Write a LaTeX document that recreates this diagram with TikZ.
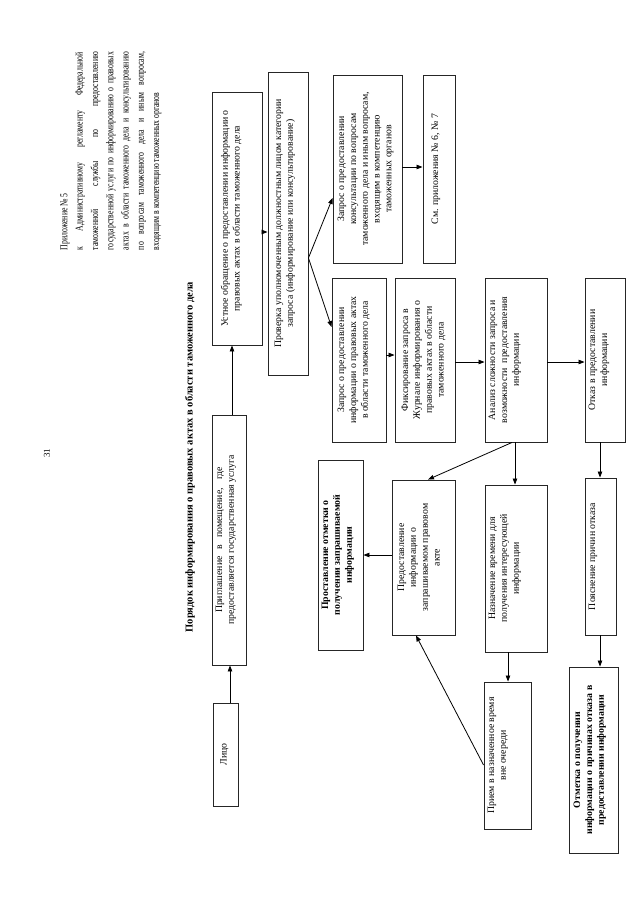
\documentclass[tikz,border=0pt]{standalone}
\usepackage{fontspec}
\usepackage{calc}
\setmainfont{Liberation Serif}
\newfontfamily\hdrfont[FakeStretch=0.74]{Liberation Serif}
\usetikzlibrary{arrows.meta}
\newcommand{\jl}[1]{\makebox[198pt][s]{#1}}
% #1 extra text style, #2 name, #3 cx, #4 cy, #5 vertical extent, #6 horizontal extent, #7 left padding, #8 text
\newcommand{\mybox}[8]{%
  \node[box, minimum width=#5pt, minimum height=#6pt] (#2) at (#3,#4) {};
  \node[txt, #1, inner ysep=#7pt] (#2T) at (#2.north) {#8};}
\begin{document}
\begin{tikzpicture}[x=1pt,y=-1pt,
  box/.style={draw=black!85, line width=0.9pt, rotate=90, inner sep=0pt},
  txt/.style={rotate=90, anchor=north, align=center, inner xsep=0pt,
    font=\fontsize{9.8}{11.8}\selectfont},
  bold/.style={font=\fontsize{9.8}{11.8}\selectfont\bfseries},
  plain/.style={},
  arr/.style={-{Triangle[length=6pt,width=4.5pt]}, line width=0.8pt}]
\fill[white] (0,0) rectangle (640,900);
\useasboundingbox (0,0) rectangle (640,900);

% page number and header
\node[rotate=90, font=\fontsize{9}{11}\selectfont] (pg) at (47,453) {31};
\node[rotate=90, align=left, inner sep=0pt,
  font=\hdrfont\fontsize{10.5}{15.3}\selectfont] (hdr) at (111,151)
  {\makebox[198pt][l]{Приложение № 5}\\
   \jl{к Административному регламенту Федеральной}\\
   \jl{таможенной службы по предоставлению}\\
   \jl{государственной услуги по информированию о правовых}\\
   \jl{актах в области таможенного дела и консультированию}\\
   \jl{по вопросам таможенного дела и иным вопросам,}\\
   \makebox[198pt][l]{входящим в компетенцию таможенных органов}};
\node[rotate=90, font=\fontsize{10.5}{13}\selectfont\bfseries] (title) at (190,457)
  {Порядок информирования о правовых актах в области таможенного дела};

% boxes
\mybox{plain}{ustnoe}{237}{218.5}{253}{50}{9}
  {Устное обращение о предоставлении информации о\\правовых актах в области таможенного дела}
\mybox{plain}{priglash}{229}{540}{250}{34}{4}
  {\makebox[\widthof{предоставляется государственная услуга}-24pt][s]{Приглашение в помещение, где}\\предоставляется государственная услуга}
\mybox{plain}{lico}{226}{754.5}{103}{25}{7}{Лицо}
\mybox{plain}{proverka}{288}{223.5}{303}{40}{7}
  {Проверка уполномоченным должностным лицом категории\\запроса (информирование или консультирование)}
\mybox{plain}{konsult}{367.5}{169}{188}{69}{5}
  {Запрос о предоставлении\\консультации по вопросам\\таможенного дела и иным вопросам,\\входящим в компетенцию\\таможенных органов}
\mybox{plain}{sm}{439}{169}{188}{32}{9}{См. приложения № 6, № 7}
\mybox{plain}{zapros}{359}{360}{164}{54}{6}
  {Запрос о предоставлении\\информации о правовых актах\\в области таможенного дела}
\mybox{plain}{fiks}{425}{360}{164}{60}{7}
  {Фиксирование запроса в\\Журнале информирования о\\правовых актах в области\\таможенного дела}
\mybox{plain}{analiz}{516}{360}{164}{62}{4}
  {Анализ сложности запроса и\\возможности\ \ предоставления\\информации}
\mybox{plain}{otkaz}{605}{360}{164}{40}{4}
  {Отказ в предоставлении\\информации}
\mybox{bold}{prostavl}{340.5}{555}{190}{45}{4}
  {Проставление отметки о\\получении запрашиваемой\\информации}
\mybox{plain}{predost}{423.5}{557.5}{155}{63}{6}
  {Предоставление\\информации о\\запрашиваемом правовом\\акте}
\mybox{plain}{naznach}{516}{568.5}{167}{62}{4}
  {Назначение времени для\\получения интересующей\\информации}
\mybox{plain}{priem}{507.5}{755.5}{147}{47}{4}
  {Прием в назначенное время\\вне очереди}
\mybox{plain}{poyasn}{600.5}{556.5}{157}{31}{4}
  {Пояснение причин отказа}
\mybox{bold}{otmetka}{593.5}{760}{186}{49}{5}
  {Отметка о получении\\информации о причинах отказа в\\предоставлении информации}

% connectors
\draw[arr] (lico.east -| 230,0) -- (priglash.west -| 230,0);
\draw[arr] (priglash.east -| 232,0) -- (ustnoe.west -| 232,0);
\draw[arr] (ustnoe.south |- 0,232) -- (proverka.north |- 0,232);
\coordinate (fan) at (proverka.south |- 0,258);
\draw[arr] (fan) -- (konsult.north |- 0,198);
\draw[arr] (fan) -- (zapros.north |- 0,327);
\draw[arr] (konsult.south |- 0,167) -- (sm.north |- 0,167);
\draw[arr] (zapros.south |- 0,355) -- (fiks.north |- 0,355);
\draw[arr] (fiks.south |- 0,362) -- (analiz.north |- 0,362);
\draw[arr] (analiz.south |- 0,362) -- (otkaz.north |- 0,362);
\draw[arr] (analiz.west -| 515,0) -- (naznach.east -| 515,0);
\draw[arr] (analiz.west -| 512,0) -- (predost.east -| 428,0);
\draw[arr] (naznach.west -| 508,0) -- (priem.east -| 508,0);
\draw[arr] (priem.north |- 0,765) -- (predost.west -| 416,0);
\draw[arr] (predost.north |- 0,555) -- (prostavl.south |- 0,555);
\draw[arr] (otkaz.west -| 600,0) -- (poyasn.east -| 600,0);
\draw[arr] (poyasn.west -| 600,0) -- (otmetka.east -| 600,0);
\end{tikzpicture}
\end{document}
